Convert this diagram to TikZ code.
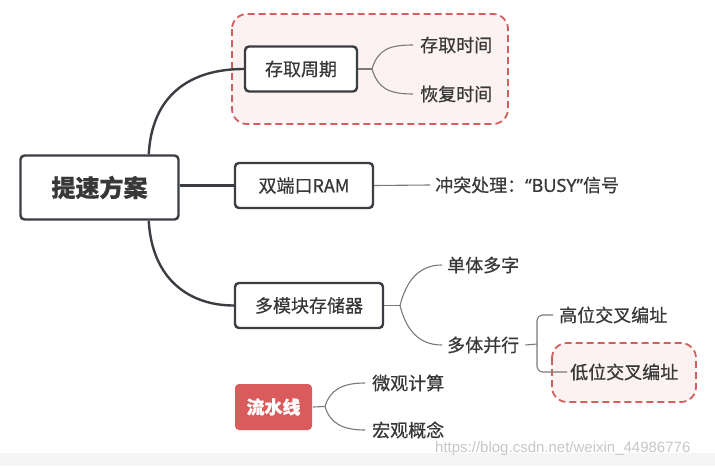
\documentclass[tikz,border=0pt]{standalone}
\usepackage{fontspec}
\setmainfont{Noto Sans CJK SC}[FakeBold=0.6]
\newfontfamily\wmfont{Liberation Sans}
\newfontfamily\latq{Noto Sans}[FakeBold=0.6]
\begin{document}
\begin{tikzpicture}[x=1pt,y=-1pt]
\definecolor{ink}{HTML}{3A3D42}
\definecolor{txt}{HTML}{383838}
\definecolor{thin}{HTML}{7A7A7A}
\definecolor{dashred}{HTML}{D25F5F}
\definecolor{pinkbg}{HTML}{FCF2F2}
\definecolor{redfill}{HTML}{D95B5B}
\tikzset{
 box/.style={draw=ink, line width=2.4pt, rounded corners=4pt, fill=white, text=txt, font=\fontsize{18}{20}\selectfont, minimum height=45pt, inner sep=0pt},
 leaf/.style={text=txt, font=\fontsize{18}{20}\selectfont, inner sep=0pt, anchor=west},
 mainline/.style={draw=ink, line width=2.4pt},
 subline/.style={draw=thin, line width=1.1pt},
 hl/.style={draw=dashred, dash pattern=on 7pt off 4pt, line width=1.8pt, fill=pinkbg, rounded corners=15pt},
}
\useasboundingbox (0,0) rectangle (715,466);
\fill[white] (0,0) rectangle (715,466);
\fill[black!4] (0,453) rectangle (715,466);

% highlight regions
\draw[hl] (232,14) rectangle (508,124);
\draw[hl] (552,343) rectangle (696,402);

% boxes
\node[box, minimum width=158pt, minimum height=64pt, font=\fontsize{24}{26}\selectfont\bfseries] (root) at (99.5,187.5) {提速方案};
\node[box, minimum width=112pt] (c1) at (301,69) {存取周期};
\node[box, minimum width=138pt] (c2) at (304,185.5) {双端口RAM};
\node[box, minimum width=148pt] (c3) at (309,305.5) {多模块存储器};
\node[box, draw=none, fill=redfill, text=white, minimum width=77pt, minimum height=46pt, font=\fontsize{18}{20}\selectfont\bfseries] (pipe) at (273.5,407) {流水线};

% leaves
\node[leaf] (l11) at (420,45) {存取时间};
\node[leaf] (l12) at (420,94) {恢复时间};
\node[leaf] (l21) at (435,185) {冲突处理：{\latq “BUSY”}信号};
\node[leaf] (l31) at (447,265) {单体多字};
\node[leaf] (l32) at (447,345) {多体并行};
\node[leaf] (l321) at (559,315) {高位交叉编址};
\node[leaf] (l322) at (570,372) {低位交叉编址};
\node[leaf] (l41) at (372,383) {微观计算};
\node[leaf] (l42) at (372,430) {宏观概念};

% watermark
\node[text=black!22, font=\wmfont\fontsize{15}{17}\selectfont, inner sep=0pt, anchor=west] (wm) at (435,449) {https://blog.csdn.net/weixin\_44986776};

% main connectors
\draw[mainline] (root.34) .. controls (152,95) and (190,69) .. (c1.west);
\draw[mainline] (root.east |- c2.west) -- (c2.west);
\draw[mainline] (root.-34) .. controls (152,280) and (190,305.5) .. (c3.west);

% sub connectors
\coordinate (j1) at (372,69);
\draw[subline] (c1.east) -- (j1);
\draw[subline] (j1) .. controls (378,50) and (388,45) .. ([xshift=-7pt]l11.west);
\draw[subline] (j1) .. controls (378,88) and (388,94) .. ([xshift=-7pt]l12.west);

\draw[subline] (c2.east) -- ([xshift=-5pt]l21.west);

\coordinate (j3) at (400,305.5);
\draw[subline] (c3.east) -- (j3);
\draw[subline] (j3) .. controls (406,282) and (418,265) .. ([xshift=-5pt]l31.west);
\draw[subline] (j3) .. controls (406,329) and (418,345) .. ([xshift=-5pt]l32.west);

\coordinate (j5) at (537,344);
\draw[subline] ([xshift=6pt]l32.east) -- (j5);
\draw[subline, rounded corners=6pt] ([xshift=-6pt]l321.west) -| (j5) |- ([xshift=-3pt]l322.west);

\coordinate (j4) at (325,406.5);
\draw[subline] (pipe.east) -- (j4);
\draw[subline] (j4) .. controls (330,390) and (342,383) .. ([xshift=-7pt]l41.west);
\draw[subline] (j4) .. controls (330,423) and (342,430) .. ([xshift=-7pt]l42.west);
\end{tikzpicture}
\end{document}
